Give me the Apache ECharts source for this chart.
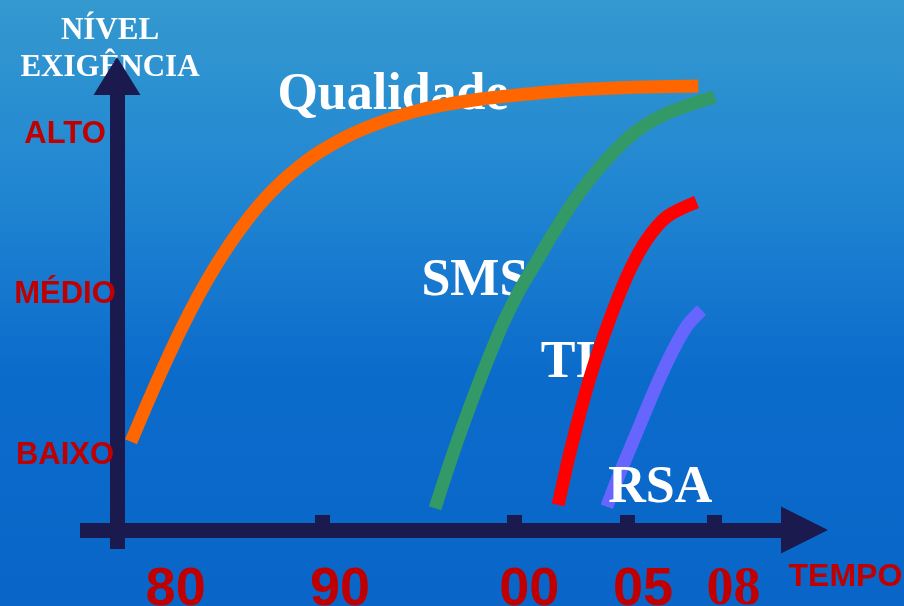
<!DOCTYPE html>
<html><head><meta charset="utf-8">
<script src="https://cdn.jsdelivr.net/npm/echarts@6/dist/echarts.min.js"></script>
<style>html,body{margin:0;padding:0;background:#1a7fd0;}#c{width:904px;height:606px;}</style>
</head><body><div id="c"></div>
<script>
// x: abstract time position (0..100), y: exigency level (BAIXO=1, MÉDIO=2, ALTO=3)
const periodLabels = ['80', '90', '00', '05', '08'];
const periodLabelPos = [13.2, 35.9, 62.0, 77.7, 90.2];
const periodTickPos = [33.4, 59.9, 75.5, 87.6];
const levelNames = ['BAIXO', 'MÉDIO', 'ALTO'];
const levelValues = [1, 2, 3];

const qualidade = [[7.04,1.083],[9.34,1.328],[11.65,1.562],[13.95,1.784],[16.26,1.987],[18.56,2.168],[20.87,2.330],[23.17,2.473],[25.48,2.598],[27.78,2.704],[30.09,2.794],[33.13,2.893],[37.72,3.007],[42.33,3.090],[46.93,3.153],[51.53,3.195],[56.13,3.226],[60.28,3.246],[67.18,3.275],[76.37,3.295],[85.34,3.303]];
const sms = [[49.0,0.667],[51.5,1.011],[53.8,1.301],[56.1,1.572],[58.4,1.822],[60.7,2.030],[63.0,2.206],[65.3,2.383],[68.1,2.581],[71.8,2.799],[76.4,3.007],[81.0,3.132],[87.6,3.236]];
const ti = [[66.0,0.688],[67.6,1.011],[69.5,1.343],[71.3,1.613],[73.6,1.905],[75.9,2.154],[78.2,2.342],[81.0,2.487],[85.1,2.579]];
const rsa = [[72.7,0.677],[74.5,0.886],[76.8,1.135],[79.1,1.385],[81.4,1.613],[83.7,1.801],[85.8,1.905]];

const seriesNames = ['Qualidade', 'SMS', 'TI', 'RSA'];
const seriesColors = ['#FF6600', '#339966', '#FF0000', '#6666FF'];
const nameAnchors = [[43.2, 3.246], [54.5, 2.083], [67.4, 1.568], [80.1, 0.788]];

const NAVY = '#1B1A4E';
const RED = '#C00000';

const chart = echarts.init(document.getElementById('c'), null, {renderer: 'canvas'});
const lineData = [qualidade, sms, ti, rsa];

const series = lineData.map((d, i) => ({
  name: seriesNames[i],
  type: 'line',
  data: d,
  smooth: 0.3,
  showSymbol: false,
  z: 3,
  lineStyle: {color: seriesColors[i], width: 13, cap: 'butt', join: 'round'},
  emphasis: {disabled: true}
}));

function labelSeries(idxs, z) {
  return {
    type: 'scatter',
    z: z,
    symbolSize: 0,
    silent: true,
    itemStyle: {opacity: 1},
    data: idxs.map(i => ({value: nameAnchors[i], name: seriesNames[i]})),
    label: {
      show: true, position: 'inside', formatter: p => p.name, opacity: 1,
      color: '#FFFFFF', fontFamily: "'Liberation Serif', 'Times New Roman', serif",
      fontWeight: 'bold', fontSize: 52
    },
    emphasis: {disabled: true}
  };
}
series.push(labelSeries([0, 1, 2], 2));
series.push(labelSeries([3], 5));

chart.setOption({
  animation: false,
  backgroundColor: {
    type: 'linear', x: 0, y: 0, x2: 0, y2: 1,
    colorStops: [
      {offset: 0, color: '#3499CE'},
      {offset: 0.3, color: '#2287D2'},
      {offset: 0.62, color: '#0B6BCB'},
      {offset: 1, color: '#0966C8'}
    ]
  },
  grid: {left: 80, right: 99.5, top: 76, bottom: 57, containLabel: false, outerBoundsMode: 'none'},
  xAxis: {
    type: 'value', min: 0, max: 100, offset: -19,
    name: '\nTEMPO', nameLocation: 'end', nameGap: -16, nameMoveOverlap: false,
    nameTextStyle: {
      color: RED, fontFamily: "'Liberation Sans', Arial, sans-serif", fontWeight: 'bold',
      fontSize: 32, lineHeight: 94, align: 'left', verticalAlign: 'middle'
    },
    splitLine: {show: false},
    axisLine: {show: true, lineStyle: {color: NAVY, width: 15, cap: 'butt'}, symbol: ['none', 'triangle'], symbolSize: [47, 47]},
    axisTick: {show: true, inside: true, length: 15, customValues: periodTickPos, lineStyle: {color: NAVY, width: 15}},
    axisLabel: {
      show: true, customValues: periodLabelPos, margin: 60, verticalAlign: 'middle',
      hideOverlap: false,
      formatter: v => {
        const i = periodLabelPos.findIndex(p => Math.abs(p - v) < 1e-6);
        const t = i >= 0 ? periodLabels[i] : '';
        return i === periodLabels.length - 1 ? '{s|' + t + '}' : t;
      },
      color: RED, fontFamily: "'Liberation Sans', Arial, sans-serif",
      fontWeight: 'bold', fontSize: 54,
      rich: {s: {color: RED, fontFamily: "'Liberation Serif', 'Times New Roman', serif", fontWeight: 'bold', fontSize: 54}}
    }
  },
  yAxis: {
    type: 'value', min: 0.4134, max: 3.365, offset: -37,
    name: 'NÍVEL\nEXIGÊNCIA', nameLocation: 'end', nameGap: -10, nameMoveOverlap: false,
    nameTextStyle: {
      color: '#FFFFFF', fontFamily: "'Liberation Serif', 'Times New Roman', serif", fontWeight: 'bold',
      fontSize: 31, lineHeight: 37, align: 'center', verticalAlign: 'bottom', padding: [0, 14, 0, 0]
    },
    splitLine: {show: false},
    axisLine: {show: true, lineStyle: {color: NAVY, width: 15, cap: 'butt'}, symbol: ['none', 'triangle'], symbolSize: [47, 38]},
    axisTick: {show: false},
    axisLabel: {
      show: true, customValues: levelValues, margin: 52, align: 'center', hideOverlap: false,
      padding: [5, 0, 0, 0],
      formatter: v => { const i = levelValues.indexOf(v); return i >= 0 ? levelNames[i] : ''; },
      color: RED, fontFamily: "'Liberation Sans', Arial, sans-serif", fontWeight: 'bold', fontSize: 31
    }
  },
  series: series
});
</script>
</body></html>
